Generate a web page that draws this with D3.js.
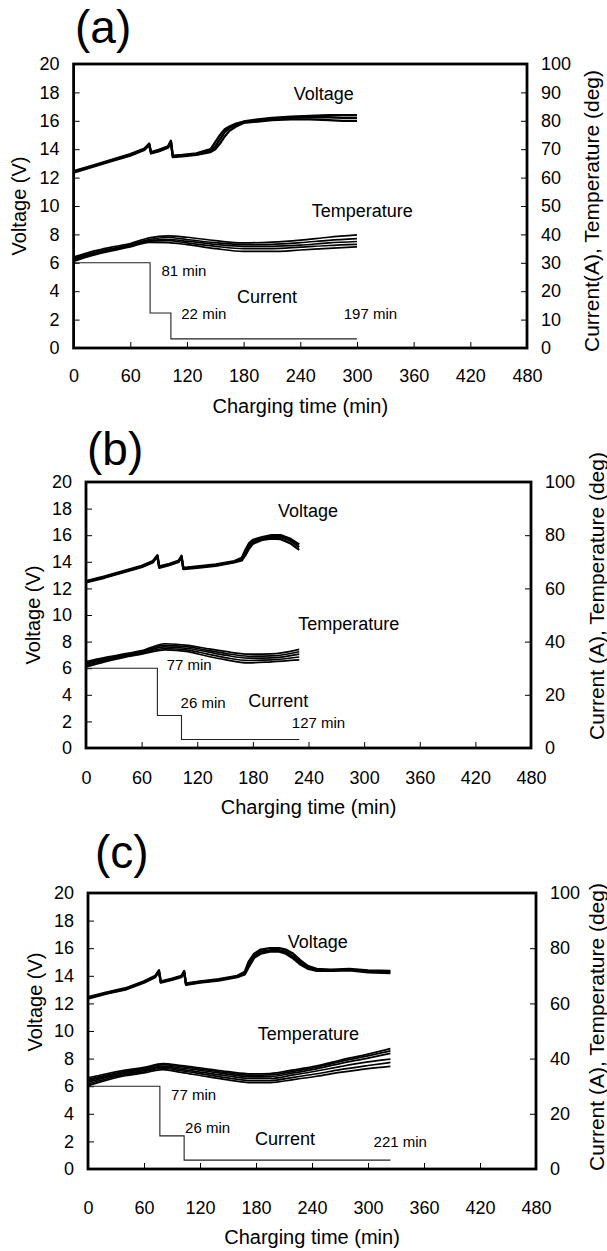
<!DOCTYPE html>
<html lang="en">
<head>
<meta charset="UTF-8">
<title>Charging curves (a) (b) (c)</title>
<style>
  body { margin: 0; background: #fff; }
  svg { display: block; font-family: "Liberation Sans", Arial, Helvetica, sans-serif; }
  .frame { fill: none; stroke: #000; stroke-width: 2.8px; }
  .axis text { font-size: 18px; fill: #000; font-family: "Liberation Sans", Arial, sans-serif; }
  .axis line { stroke: #000; stroke-width: 1px; }
  .axis .domain { display: none; }
  .volt { fill: none; stroke: #000; stroke-width: 2.3px; stroke-linejoin: round; }
  .temp { fill: none; stroke: #000; stroke-width: 1.7px; stroke-linejoin: round; }
  .curr { fill: none; stroke: #222; stroke-width: 1.1px; }
  .title { font-size: 20px; }
  .rtitle { font-size: 21px; }
  .note { font-size: 18px; }
  .mins { font-size: 15px; }
  .plabel { font-size: 46px; }
</style>
</head>
<body>
<script src="https://cdn.jsdelivr.net/npm/d3@7"></script>
<script>
// ---- tick values
const xTicks = [0, 60, 120, 180, 240, 300, 360, 420, 480]
const leftTicks = [0, 2, 4, 6, 8, 10, 12, 14, 16, 18, 20]
const rightTicksA = [0, 10, 20, 30, 40, 50, 60, 70, 80, 90, 100]
const rightTicksBC = [0, 20, 40, 60, 80, 100]

// ---- panel (a): voltage (V), temperature (deg), current (A) vs time (min)
const voltTimeA = [0, 20, 40, 60, 75, 80, 82, 90, 100, 103, 105, 115, 130, 145, 150, 155, 160, 165, 172, 180, 195, 210, 230, 250, 270, 285, 300]
const voltA1 = [12.45, 12.85, 13.25, 13.65, 14.05, 14.4, 13.8, 13.95, 14.2, 14.6, 13.55, 13.6, 13.7, 14.0, 14.5, 15.0, 15.4, 15.6, 15.8, 15.95, 16.1, 16.2, 16.3, 16.35, 16.4, 16.4, 16.4]
const voltA2 = [12.4, 12.8, 13.2, 13.6, 14.0, 14.35, 13.75, 13.9, 14.15, 14.55, 13.5, 13.55, 13.65, 13.9, 14.2, 14.7, 15.2, 15.5, 15.7, 15.9, 16.05, 16.15, 16.2, 16.25, 16.25, 16.2, 16.2]
const voltA3 = [12.35, 12.75, 13.15, 13.55, 13.95, 14.3, 13.7, 13.85, 14.1, 14.5, 13.45, 13.5, 13.6, 13.8, 14.0, 14.4, 14.9, 15.3, 15.6, 15.85, 15.95, 16.05, 16.1, 16.1, 16.05, 16.0, 16.0]
const tempTimeA = [0, 20, 40, 60, 80, 100, 120, 150, 180, 210, 240, 270, 300]
const tempA1 = [32, 34, 35.5, 36.8, 38.8, 39.5, 39, 37.8, 37, 37.3, 38, 39, 39.8]
const tempA2 = [31.8, 33.5, 35, 36.4, 38.2, 38.9, 38.2, 37.1, 36.4, 36.5, 37.1, 37.9, 38.5]
const tempA3 = [31.4, 33.2, 34.8, 36.1, 37.9, 38.2, 37.6, 36.5, 35.8, 35.8, 36.2, 37, 37.5]
const tempA4 = [31, 33, 34.5, 35.9, 37.6, 37.8, 37, 35.8, 35, 35, 35.5, 36.1, 36.5]
const tempA5 = [30.5, 32.6, 34.2, 35.6, 37.2, 37.1, 36.4, 35, 34, 34, 34.5, 35.1, 35.6]
const currTimeA = [0, 81, 103, 300]
const currA = [30, 12.3, 3.2, 3.2]

// ---- panel (b)
const voltTimeB = [0, 20, 40, 60, 72, 77, 79, 90, 100, 103, 105, 120, 140, 160, 168, 172, 176, 180, 190, 200, 210, 220, 230]
const voltB1 = [12.55, 12.9, 13.3, 13.7, 14.05, 14.5, 13.65, 13.85, 14.1, 14.45, 13.55, 13.65, 13.8, 14.05, 14.3, 14.9, 15.4, 15.65, 15.85, 16.0, 16.0, 15.75, 15.3]
const voltB2 = [12.5, 12.85, 13.25, 13.65, 14.0, 14.45, 13.6, 13.8, 14.05, 14.4, 13.5, 13.6, 13.75, 14.0, 14.2, 14.7, 15.2, 15.5, 15.75, 15.88, 15.85, 15.6, 15.1]
const voltB3 = [12.45, 12.8, 13.2, 13.6, 13.95, 14.4, 13.55, 13.75, 14.0, 14.35, 13.45, 13.55, 13.7, 13.95, 14.1, 14.5, 15.0, 15.35, 15.65, 15.75, 15.7, 15.4, 14.9]
const tempTimeB = [0, 20, 40, 60, 85, 110, 130, 150, 175, 200, 230]
const tempB1 = [32.5, 34, 35.3, 36.6, 39.2, 38.6, 37.4, 36.3, 35.3, 35.4, 37.1]
const tempB2 = [32, 33.6, 35, 36.3, 38.6, 38, 36.8, 35.6, 34.5, 34.6, 36.2]
const tempB3 = [31.5, 33.2, 34.6, 36, 38, 37.4, 36.2, 34.9, 33.8, 33.9, 35.3]
const tempB4 = [31, 32.8, 34.3, 35.6, 37.4, 36.8, 35.4, 34, 32.9, 33.1, 34.2]
const tempB5 = [30.5, 32.4, 34, 35.3, 36.9, 36.2, 34.6, 33.2, 32, 32.4, 33.1]
const currTimeB = [0, 77, 103, 230]
const currB = [30, 12.2, 3.2, 3.2]

// ---- panel (c)
const voltTimeC = [0, 20, 40, 60, 72, 76, 78, 90, 100, 103, 105, 120, 140, 160, 168, 172, 178, 185, 195, 205, 212, 220, 228, 236, 245, 260, 280, 300, 324]
const voltC1 = [12.45, 12.8, 13.1, 13.6, 14.0, 14.4, 13.6, 13.8, 14.0, 14.35, 13.45, 13.6, 13.75, 14.0, 14.3, 15.0, 15.6, 15.9, 16.0, 16.0, 15.9, 15.6, 15.1, 14.7, 14.5, 14.45, 14.5, 14.4, 14.35]
const voltC2 = [12.4, 12.75, 13.05, 13.55, 13.95, 14.35, 13.55, 13.75, 13.95, 14.3, 13.4, 13.55, 13.7, 13.95, 14.2, 14.8, 15.45, 15.75, 15.85, 15.85, 15.75, 15.4, 14.95, 14.6, 14.42, 14.4, 14.45, 14.32, 14.28]
const voltC3 = [12.35, 12.7, 13.0, 13.5, 13.9, 14.3, 13.5, 13.7, 13.9, 14.25, 13.35, 13.5, 13.65, 13.9, 14.1, 14.6, 15.3, 15.6, 15.75, 15.75, 15.6, 15.25, 14.8, 14.5, 14.35, 14.35, 14.4, 14.25, 14.2]
const tempTimeC = [0, 20, 40, 60, 80, 100, 125, 150, 175, 195, 220, 245, 270, 300, 324]
const tempC1 = [33, 34.5, 35.8, 36.8, 38.2, 37.5, 36.4, 35.3, 34.5, 34.6, 35.9, 37.4, 39.4, 41.6, 43.6]
const tempC2 = [32.5, 34, 35.4, 36.4, 37.8, 37.1, 36, 34.8, 34, 34.1, 35.4, 36.9, 38.9, 41, 42.8]
const tempC3 = [32, 33.6, 35, 36, 37.3, 36.6, 35.5, 34.3, 33.4, 33.5, 34.8, 36.3, 38.2, 40.2, 41.9]
const tempC4 = [31.5, 33.2, 34.6, 35.6, 36.9, 36.1, 34.9, 33.7, 32.8, 32.8, 34.1, 35.5, 37.1, 38.8, 39.8]
const tempC5 = [30.8, 32.7, 34.2, 35.2, 36.5, 35.6, 34.3, 33, 32, 32, 33.2, 34.5, 36, 37.5, 38.6]
const tempC6 = [30.2, 32.2, 33.8, 34.8, 36, 35, 33.6, 32.3, 31.3, 31.3, 32.4, 33.6, 35, 36.4, 37.2]
const currTimeC = [0, 77, 103, 324]
const currC = [30, 12, 3.2, 3.2]

// ---- in-plot labels: [text, time (min), voltage-axis value, class]
const notesA = [['Voltage', 233, 17.45, 'note'], ['Temperature', 252, 9.25, 'note'], ['Current', 173, 3.15, 'note'],
  ['81 min', 93, 5.1, 'mins'], ['22 min', 114, 2.05, 'mins'], ['197 min', 286, 2.05, 'mins']]
const notesB = [['Voltage', 207, 17.4, 'note'], ['Temperature', 229, 8.85, 'note'], ['Current', 175, 3.1, 'note'],
  ['77 min', 87, 5.85, 'mins'], ['26 min', 102, 3.0, 'mins'], ['127 min', 222, 1.5, 'mins']]
const notesC = [['Voltage', 214, 16.0, 'note'], ['Temperature', 182, 9.35, 'note'], ['Current', 179, 1.75, 'note'],
  ['77 min', 89, 5.0, 'mins'], ['26 min', 104, 2.6, 'mins'], ['221 min', 306, 1.6, 'mins']]

const panels = [
  { name: '(a)', left: 73.6, right: 527, top: 64, bottom: 348, xPad: 21, xTitleY: 413,
    lab: [75, 43], ltitle: [19, 206], rtitle: [591, 211], rtext: 'Current(A), Temperature (deg)',
    rticks: rightTicksA, vt: voltTimeA, volts: [voltA1, voltA2, voltA3],
    tt: tempTimeA, temps: [tempA1, tempA2, tempA3, tempA4, tempA5], ct: currTimeA, curr: currA, notes: notesA },
  { name: '(b)', left: 86, right: 531, top: 482, bottom: 748, xPad: 23, xTitleY: 814,
    lab: [87, 465], ltitle: [33, 615], rtitle: [596, 596], rtext: 'Current (A), Temperature (deg)',
    rticks: rightTicksBC, vt: voltTimeB, volts: [voltB1, voltB2, voltB3],
    tt: tempTimeB, temps: [tempB1, tempB2, tempB3, tempB4, tempB5], ct: currTimeB, curr: currB, notes: notesB },
  { name: '(c)', left: 88, right: 536, top: 893, bottom: 1169, xPad: 32, xTitleY: 1244,
    lab: [95, 868], ltitle: [35, 1002], rtitle: [596, 1027], rtext: 'Current (A), Temperature (deg)',
    rticks: rightTicksBC, vt: voltTimeC, volts: [voltC1, voltC2, voltC3],
    tt: tempTimeC, temps: [tempC1, tempC2, tempC3, tempC4, tempC5, tempC6], ct: currTimeC, curr: currC, notes: notesC }
]

const svg = d3.select('body').append('svg')
  .attr('width', 607)
  .attr('height', 1251)

panels.forEach(p => {
  const x = d3.scaleLinear().domain([0, 480]).range([p.left, p.right])
  const y = d3.scaleLinear().domain([0, 20]).range([p.bottom, p.top])
  const yR = d3.scaleLinear().domain([0, 100]).range([p.bottom, p.top])
  const g = svg.append('g')

  g.append('g')
    .attr('class', 'axis')
    .attr('transform', `translate(0,${p.bottom})`)
    .call(d3.axisBottom(x).tickValues(xTicks).tickSize(-6).tickSizeOuter(0).tickPadding(p.xPad))
  g.append('g')
    .attr('class', 'axis')
    .attr('transform', `translate(${p.left},0)`)
    .call(d3.axisLeft(y).tickValues(leftTicks).tickSize(-6).tickSizeOuter(0).tickPadding(14))
  g.append('g')
    .attr('class', 'axis')
    .attr('transform', `translate(${p.right},0)`)
    .call(d3.axisRight(yR).tickValues(p.rticks).tickSize(-6).tickSizeOuter(0).tickPadding(14))

  // current: step line on right axis
  const stepLine = d3.line()
    .x((d, i) => x(p.ct[i]))
    .y(d => yR(d))
    .curve(d3.curveStepAfter)
  g.append('path').attr('class', 'curr').attr('d', stepLine(p.curr))

  p.temps.forEach(series => {
    const line = d3.line()
      .x((d, i) => x(p.tt[i]))
      .y(d => yR(d))
      .curve(d3.curveMonotoneX)
    g.append('path').attr('class', 'temp').attr('d', line(series))
  })

  p.volts.forEach(series => {
    const line = d3.line()
      .x((d, i) => x(p.vt[i]))
      .y(d => y(d))
    g.append('path').attr('class', 'volt').attr('d', line(series))
  })

  g.append('rect')
    .attr('class', 'frame')
    .attr('x', p.left).attr('y', p.top)
    .attr('width', p.right - p.left).attr('height', p.bottom - p.top)

  p.notes.forEach(n => {
    g.append('text')
      .attr('class', n[3])
      .attr('x', x(n[1]))
      .attr('y', y(n[2]))
      .text(n[0])
  })

  g.append('text')
    .attr('class', 'plabel')
    .attr('x', p.lab[0]).attr('y', p.lab[1])
    .text(p.name)

  g.append('text')
    .attr('class', 'title')
    .attr('text-anchor', 'middle')
    .attr('x', (p.left + p.right) / 2)
    .attr('y', p.xTitleY)
    .text('Charging time (min)')

  g.append('text')
    .attr('class', 'title')
    .attr('text-anchor', 'middle')
    .attr('transform', `translate(${p.ltitle[0] + 7},${p.ltitle[1]}) rotate(-90)`)
    .text('Voltage (V)')

  g.append('text')
    .attr('class', 'rtitle')
    .attr('text-anchor', 'middle')
    .attr('transform', `translate(${p.rtitle[0] + 7.5},${p.rtitle[1]}) rotate(-90)`)
    .text(p.rtext)
})
</script>
</body>
</html>
